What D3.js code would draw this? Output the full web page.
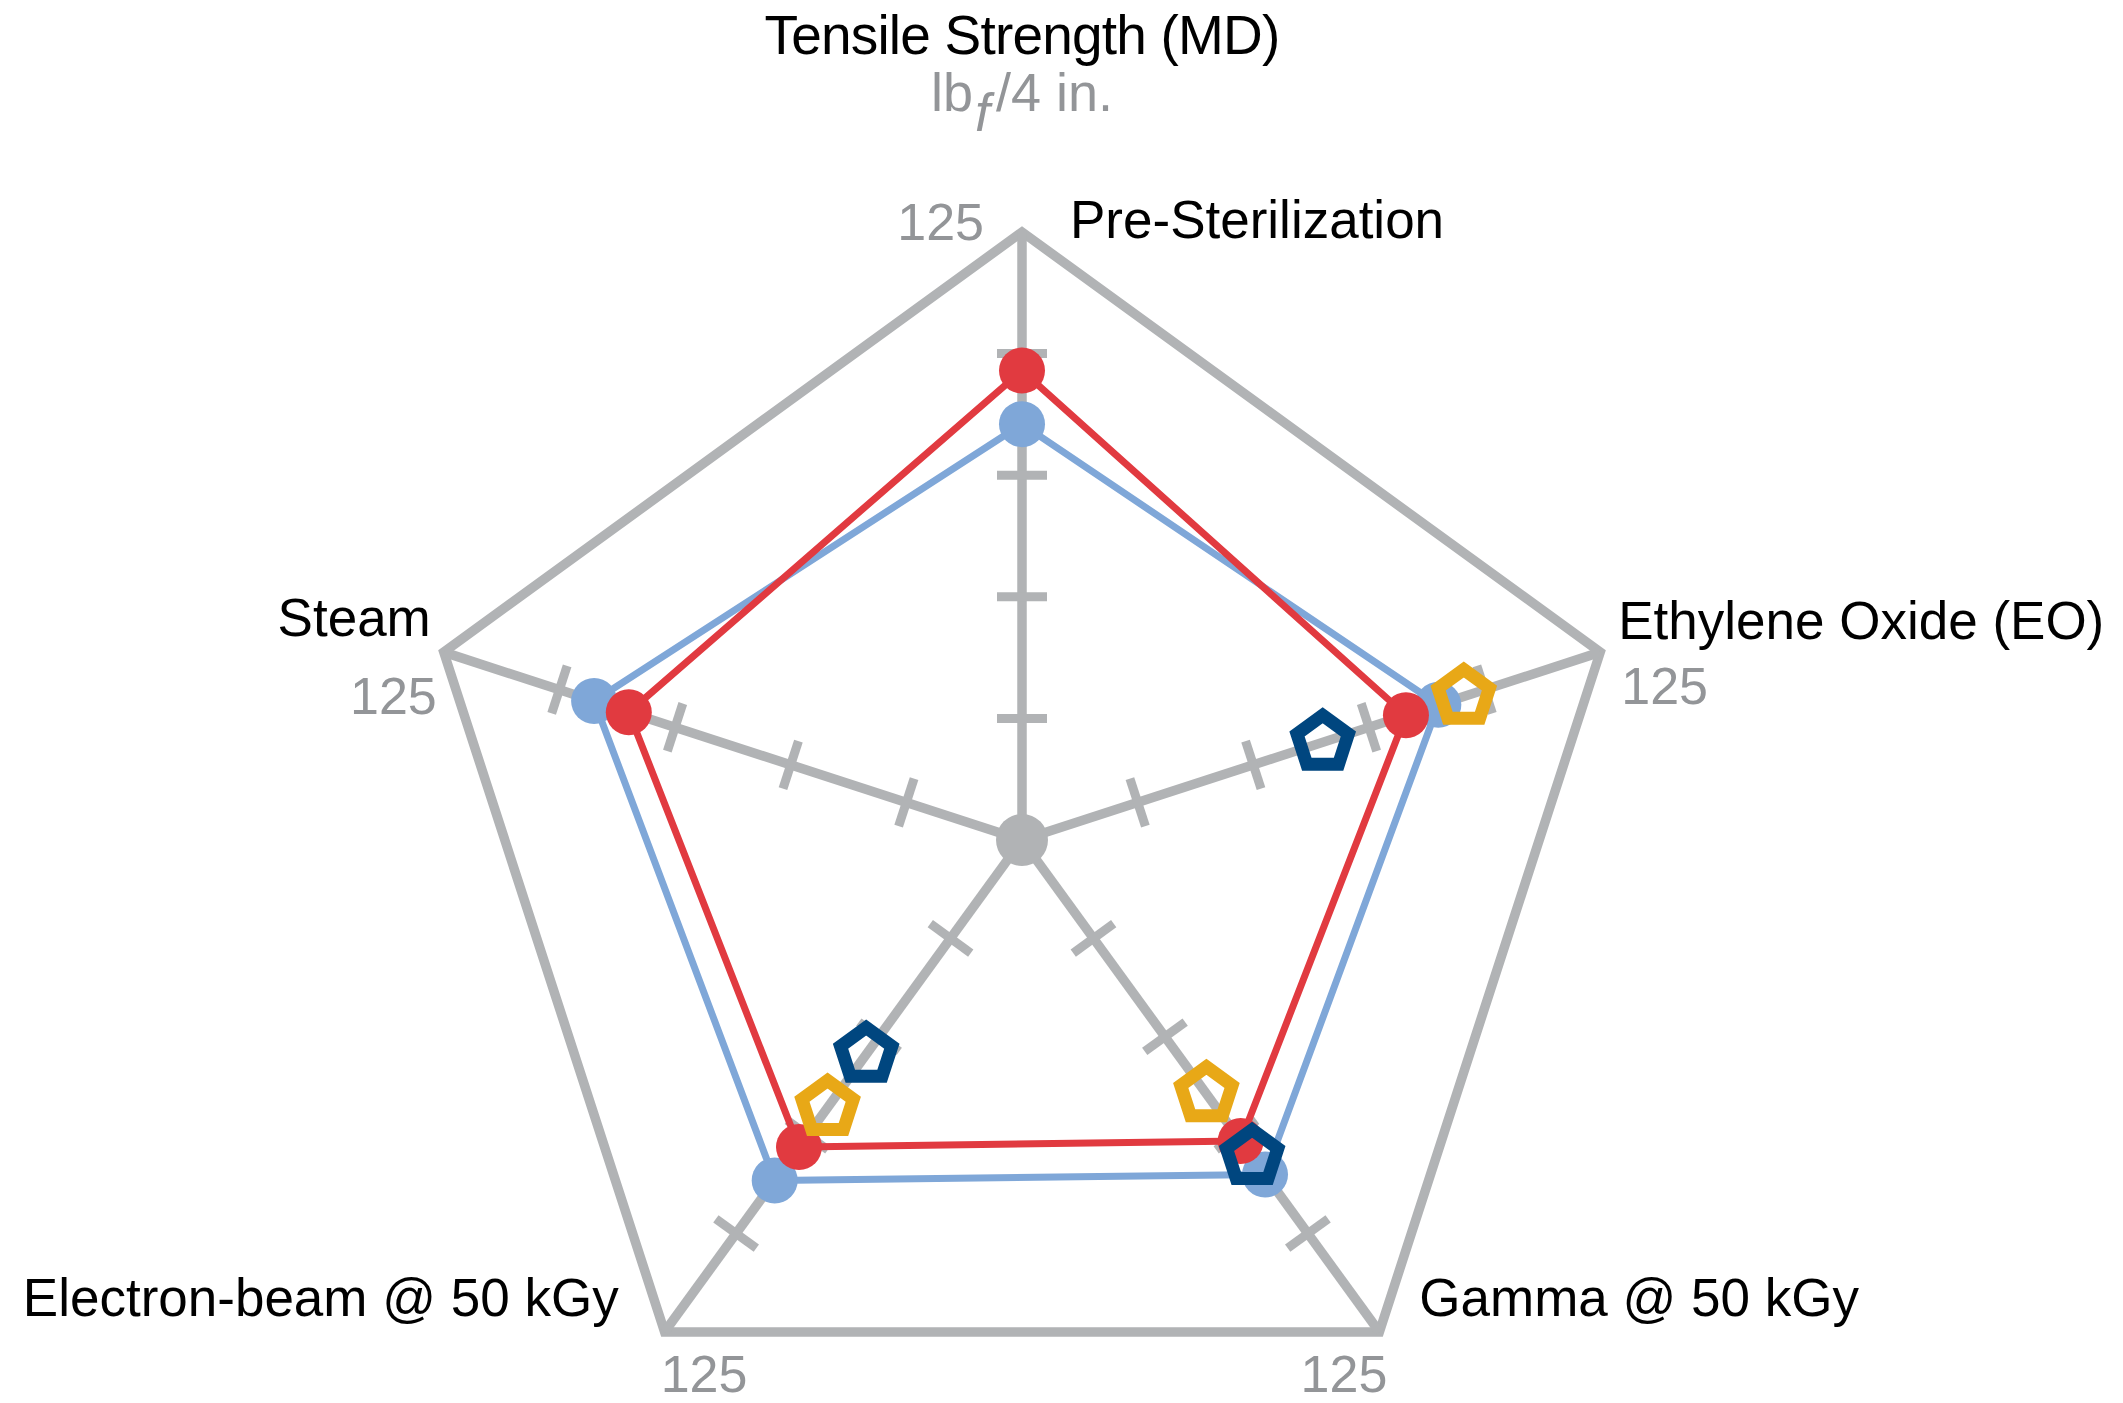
<!DOCTYPE html>
<html>
<head>
<meta charset="utf-8">
<script src="https://cdn.jsdelivr.net/npm/d3@7"></script>
<style>
  html, body { margin: 0; padding: 0; background: #ffffff; }
  svg { display: block; font-family: "Liberation Sans", Arial, Helvetica, sans-serif; }
</style>
</head>
<body>
<svg id="chart" width="2123" height="1403"></svg>
<script>
// ---------- data ----------
const categories = ["Pre-Sterilization", "Ethylene Oxide (EO)", "Gamma @ 50 kGy", "Electron-beam @ 50 kGy", "Steam"];
const axisMax = 125;
const tickValues = [25, 50, 75, 100];
const maxLabel = "125";
const seriesRed   = [96.5, 83, 76.5, 78, 85];
const seriesBlue  = [85.5, 90, 85, 86.5, 92.5];
const seriesGold  = [null, 95.5, 64.5, 68, null];
const seriesNavy  = [null, 65, 80.5, 54.5, null];
const titleText = "Tensile Strength (MD)";

// ---------- layout ----------
const W = 2123, H = 1403;
const cx = 1022, cy = 840, R = 608;
const colors = { grid: "#b1b3b5", red: "#e13a40", blue: "#7fa7d8", gold: "#e8a817", navy: "#00467f", tickText: "#939598" };
// label placement relative to each axis end: [dx, dy, anchor]
const catLabelPos = [[48, 6, "start"], [18, -13, "start"], [40, -16, "start"], [-46, -16, "end"], [-13, -16, "end"]];
const maxLabelPos = [[-38, 8, "end"], [21, 52, "start"], [8, 60, "end"], [-4, 60, "start"], [-7, 62, "end"]];

const svg = d3.select("#chart");
const g = svg.append("g").attr("transform", `translate(${cx},${cy})`);

const r = d3.scaleLinear().domain([0, axisMax]).range([0, R]);
const angle = d3.scaleLinear().domain([0, categories.length]).range([0, 2 * Math.PI]);
const pt = (i, v) => [r(v) * Math.sin(angle(i)), -r(v) * Math.cos(angle(i))];

// outer pentagon
const outer = d3.line().curve(d3.curveLinearClosed);
g.append("path")
  .attr("d", outer(categories.map((c, i) => pt(i, axisMax))))
  .attr("fill", "none").attr("stroke", colors.grid).attr("stroke-width", 9.5).attr("stroke-linejoin", "miter");

// spokes
categories.forEach((c, i) => {
  const [x, y] = pt(i, axisMax);
  g.append("line").attr("x1", 0).attr("y1", 0).attr("x2", x).attr("y2", y)
    .attr("stroke", colors.grid).attr("stroke-width", 9.5);
  const deg = angle(i) * 180 / Math.PI;
  tickValues.forEach(t => {
    const [tx, ty] = pt(i, t);
    g.append("line")
      .attr("transform", `translate(${tx},${ty}) rotate(${deg})`)
      .attr("x1", -25).attr("x2", 25).attr("y1", 0).attr("y2", 0)
      .attr("stroke", colors.grid).attr("stroke-width", 9);
  });
});
// center dot
g.append("circle").attr("r", 26).attr("fill", colors.grid);

// series lines + dots
function drawLineSeries(values, color) {
  const pts = values.map((v, i) => pt(i, v));
  g.append("path").attr("d", d3.line().curve(d3.curveLinearClosed)(pts))
    .attr("fill", "none").attr("stroke", color).attr("stroke-width", 7).attr("stroke-linejoin", "round");
  g.selectAll(null).data(pts).enter().append("circle")
    .attr("cx", d => d[0]).attr("cy", d => d[1]).attr("r", 23).attr("fill", color);
}
drawLineSeries(seriesBlue, colors.blue);
drawLineSeries(seriesRed, colors.red);

// pentagon markers
const pentagon = d3.lineRadial().curve(d3.curveLinearClosed)
  .angle(d => d).radius(27)(d3.range(5).map(k => k * 2 * Math.PI / 5));
function drawMarkers(values, color) {
  values.forEach((v, i) => {
    if (v == null) return;
    const [x, y] = pt(i, v);
    g.append("path").attr("d", pentagon).attr("transform", `translate(${x},${y})`)
      .attr("fill", "none").attr("stroke", color).attr("stroke-width", 13).attr("stroke-linejoin", "miter");
  });
}
drawMarkers(seriesGold, colors.gold);
drawMarkers(seriesNavy, colors.navy);

// labels
categories.forEach((c, i) => {
  const [x, y] = pt(i, axisMax);
  const [dx, dy, anchor] = catLabelPos[i];
  g.append("text").attr("x", x + dx).attr("y", y + dy).attr("text-anchor", anchor)
    .attr("font-size", 53).attr("fill", "#000").text(c);
  const [mx, my, manchor] = maxLabelPos[i];
  g.append("text").attr("x", x + mx).attr("y", y + my).attr("text-anchor", manchor)
    .attr("font-size", 52).attr("fill", colors.tickText).text(maxLabel);
});

// title + unit
svg.append("text").attr("x", cx).attr("y", 54).attr("text-anchor", "middle")
  .attr("font-size", 55).attr("fill", "#000").attr("letter-spacing", -0.8).text(titleText);
const unit = svg.append("text").attr("x", cx).attr("y", 111).attr("text-anchor", "middle")
  .attr("font-size", 54).attr("fill", colors.tickText);
unit.append("tspan").text("lb");
unit.append("tspan").attr("dy", 20).attr("dx", 2).attr("font-style", "italic").text("f");
unit.append("tspan").attr("dy", -20).attr("dx", 6).text("/4 in.");
</script>
</body>
</html>
